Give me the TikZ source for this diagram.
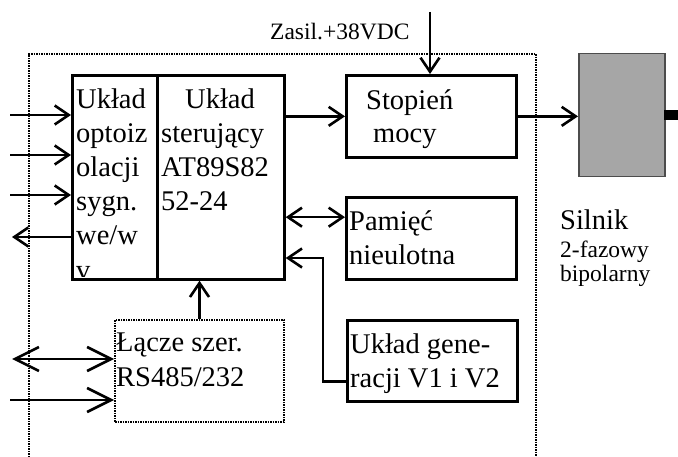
\documentclass[tikz,border=0pt]{standalone}
\usepackage{fontspec}
\setmainfont{Liberation Serif}
\usetikzlibrary{arrows.meta,calc}
\begin{document}
\begin{tikzpicture}[x=1pt,y=-1pt,
  box/.style={draw, line width=2.7pt, inner sep=0pt, anchor=north west},
  dotbox/.style={draw, line width=2pt, dash pattern=on 1.5pt off 1pt, inner sep=0pt, anchor=north west},
  txt/.style={anchor=base west, inner sep=0pt, font=\fontsize{28.5}{34}\selectfont},
  stxt/.style={anchor=base west, inner sep=0pt, font=\fontsize{23.5}{26}\selectfont},
  arr/.style={line width=2.6pt, -{Straight Barb[length=14pt,width=19pt,line width=2.6pt]}},
  dbl/.style={line width=2.6pt, {Straight Barb[length=14pt,width=19pt,line width=2.6pt]}-{Straight Barb[length=14pt,width=19pt,line width=2.6pt]}},
  bigarr/.style={line width=2.6pt, -{Straight Barb[length=24pt,width=24pt,line width=2.6pt]}},
  bigdbl/.style={line width=2.6pt, {Straight Barb[length=24pt,width=24pt,line width=2.6pt]}-{Straight Barb[length=24pt,width=24pt,line width=2.6pt]}}
]
\useasboundingbox (0,0) rectangle (678,457);
% outer dotted frame
\draw[line width=2pt, dash pattern=on 1.5pt off 1pt] (29,457) -- (29,54) -- (536,54) -- (536,457);
% blocks
\node[box, minimum width=85pt, minimum height=204pt] (opto) at (71,74) {};
\node[box, minimum width=127pt, minimum height=204pt] (ctrl) at (156,74) {};
\node[box, minimum width=170pt, minimum height=82pt] (stop) at (345,74) {};
\node[box, minimum width=170pt, minimum height=82pt] (mem) at (345,196) {};
\node[box, minimum width=170pt, minimum height=81pt] (gen) at (346,319) {};
\node[dotbox, minimum width=169pt, minimum height=102pt] (lacze) at (114,319) {};
\node[draw=black!70, fill=black!35, line width=1.5pt, inner sep=0pt, anchor=north west, minimum width=86pt, minimum height=123pt] (motor) at (578,53) {};
\node[fill=black, inner sep=0pt, anchor=north west, minimum width=14pt, minimum height=10pt] (shaft) at (664,110) {};
% texts opto
\begin{scope}
\clip (71,74) rectangle (156,277);
\node[txt] (o1) at (76,109) {Układ};
\node[txt] (o2) at (76,143) {optoiz};
\node[txt] (o3) at (76,177) {olacji};
\node[txt] (o4) at (76,211) {sygn.};
\node[txt] (o5) at (76,245) {we/w};
\node[txt] (o6) at (76,280) {v};
\end{scope}
% ctrl texts
\node[txt] (c1) at (185,109) {Układ};
\node[txt] (c2) at (161,143) {sterujący};
\node[txt] (c3) at (161,177) {AT89S82};
\node[txt] (c4) at (161,211) {52-24};
% stop
\node[txt] (s1) at (366,110) {Stopień};
\node[txt] (s2) at (373,143) {mocy};
% mem
\node[txt] (m1) at (349,231) {Pamięć};
\node[txt] (m2) at (349,265) {nieulotna};
% gen
\node[txt] (g1) at (350,353) {Układ gene-};
\node[txt] (g2) at (350,387) {racji V1 i V2};
% lacze
\node[txt] (l1t) at (116,352) {Łącze szer.};
\node[txt] (l2t) at (116,386) {RS485/232};
% motor labels
\node[txt] (sil) at (560,230) {Silnik};
\node[stxt] (faz) at (560,258) {2-fazowy};
\node[stxt] (bip) at (560,282) {bipolarny};
\node[stxt] (zas) at (270,40) {Zasil.+38VDC};
% connectors
\coordinate (in1) at (10,115);
\coordinate (in2) at (10,155);
\coordinate (in3) at (10,195);
\coordinate (out1) at (12,237);
\coordinate (pwr) at (430,12);
\coordinate (bend) at (323,258);
\coordinate (lin1) at (12,359);
\coordinate (lin2) at (10,400);
\coordinate (mempt) at ($(mem.north west)!0.25!(mem.south west)$);
\coordinate (genpt) at ($(gen.north west)!0.75!(gen.south west)$);
\draw[arr] (in1) -- (in1 -| opto.west);
\draw[arr] (in2) -- (in2 -| opto.west);
\draw[arr] (in3) -- (in3 -| opto.west);
\draw[arr] (out1 -| opto.west) -- (out1);
\draw[arr] (stop.west -| ctrl.east) -- (stop.west);
\draw[arr] (stop.east) -- (stop.east -| motor.west);
\draw[arr] (pwr) -- (pwr |- stop.north);
\draw[dbl] (mempt -| ctrl.east) -- (mempt);
\draw[arr] (genpt) -| (bend) -- (bend -| ctrl.east);
\draw[arr] (lacze.north) -- (lacze.north |- ctrl.south);
\draw[bigdbl] (lin1) -- (lin1 -| lacze.west);
\draw[bigarr] (lin2) -- (lin2 -| lacze.west);
\end{tikzpicture}
\end{document}
